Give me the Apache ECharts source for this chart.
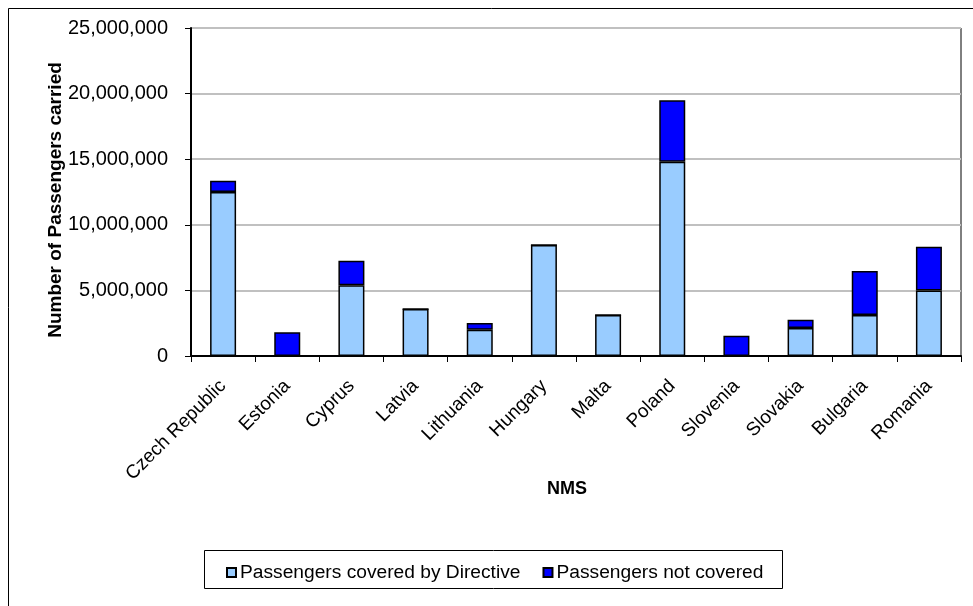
<!DOCTYPE html>
<html>
<head>
<meta charset="utf-8">
<title>Passengers carried by NMS</title>
<script src="https://cdn.jsdelivr.net/npm/echarts@6/dist/echarts.min.js"></script>
<style>
  html, body { margin: 0; padding: 0; background: #ffffff; }
  #chart { width: 973px; height: 606px; }
</style>
</head>
<body>
<div id="chart"></div>
<script>
// New Member States (x axis categories)
const countries = ['Czech Republic', 'Estonia', 'Cyprus', 'Latvia', 'Lithuania', 'Hungary',
  'Malta', 'Poland', 'Slovenia', 'Slovakia', 'Bulgaria', 'Romania'];

// Passengers covered by the Directive
const coveredPassengers = [12500000, 0, 5400000, 3580000, 2000000, 8460000,
  3120000, 14800000, 0, 2130000, 3120000, 5000000];

// Passengers not covered
const notCoveredPassengers = [860000, 1810000, 1860000, 0, 520000, 0,
  0, 4700000, 1550000, 640000, 3360000, 3330000];

// Value axis ticks
const yMin = 0;
const yMax = 25000000;
const yStep = 5000000;

const seriesNames = ['Passengers covered by Directive', 'Passengers not covered'];

const FONT = "'Liberation Sans', Arial, Helvetica, sans-serif";

const chart = echarts.init(document.getElementById('chart'), null, { renderer: 'canvas' });

const fmt = v => String(v).replace(/\B(?=(\d{3})+(?!\d))/g, ',');

chart.setOption({
  animation: false,
  backgroundColor: '#ffffff',
  textStyle: { fontFamily: FONT, color: '#000000' },
  grid: {
    left: 191, right: 12, top: 28, bottom: 250,
    show: true, borderColor: '#000000', borderWidth: 1, backgroundColor: 'transparent'
  },
  legend: {
    left: 221, top: 558,
    icon: 'rect',
    itemWidth: 9, itemHeight: 9, itemGap: 22,
    textStyle: { fontFamily: FONT, fontSize: 19.2, color: '#000000', padding: [0, 0, 0, -1] },
    data: seriesNames
  },
  graphic: [
    { type: 'rect', silent: true, z: -1,
      shape: { x: 8.5, y: 8.5, width: 1000, height: 700 },
      style: { fill: 'none', stroke: '#000000', lineWidth: 1 } },
    { type: 'rect', silent: true, z: -1,
      shape: { x: 204.5, y: 550.5, width: 578, height: 38 },
      style: { fill: '#ffffff', stroke: '#000000', lineWidth: 1 } }
  ],
  xAxis: {
    type: 'category',
    data: countries,
    name: 'NMS',
    nameLocation: 'middle',
    nameMoveOverlap: false,
    nameGap: 124,
    nameTextStyle: {
      fontFamily: FONT, fontSize: 18, fontWeight: 'bold', color: '#000000',
      padding: [0, 18, 0, 0]
    },
    axisLine: { lineStyle: { color: '#000000', width: 2 } },
    axisTick: { show: true, inside: false, length: 6, lineStyle: { color: '#000000' } },
    axisLabel: {
      rotate: 45, margin: 27, interval: 0,
      fontFamily: FONT, fontSize: 19, color: '#000000'
    },
    splitLine: { show: false }
  },
  yAxis: {
    type: 'value',
    min: yMin, max: yMax, interval: yStep,
    name: 'Number of Passengers carried',
    nameLocation: 'middle',
    nameMoveOverlap: false,
    nameGap: 126,
    nameRotate: 90,
    nameTextStyle: {
      fontFamily: FONT, fontSize: 19, fontWeight: 'bold', color: '#000000',
      padding: [0, 16, 0, 0]
    },
    axisLine: { show: true, lineStyle: { color: '#000000', width: 2 } },
    axisTick: { show: true, inside: false, length: 6, lineStyle: { color: '#000000' } },
    axisLabel: {
      margin: 23, fontFamily: FONT, fontSize: 20, color: '#000000',
      formatter: v => fmt(v)
    },
    splitLine: { show: true, lineStyle: { color: '#c0c0c0', width: 2 } }
  },
  series: [
    {
      name: seriesNames[0],
      type: 'bar',
      stack: 'total',
      barWidth: 26,
      data: coveredPassengers,
      itemStyle: { color: '#99ccff', borderColor: '#000000', borderWidth: 1.5 }
    },
    {
      name: seriesNames[1],
      type: 'bar',
      stack: 'total',
      barWidth: 26,
      data: notCoveredPassengers,
      itemStyle: { color: '#0000ff', borderColor: '#000000', borderWidth: 1.5 }
    }
  ]
});
</script>
</body>
</html>
